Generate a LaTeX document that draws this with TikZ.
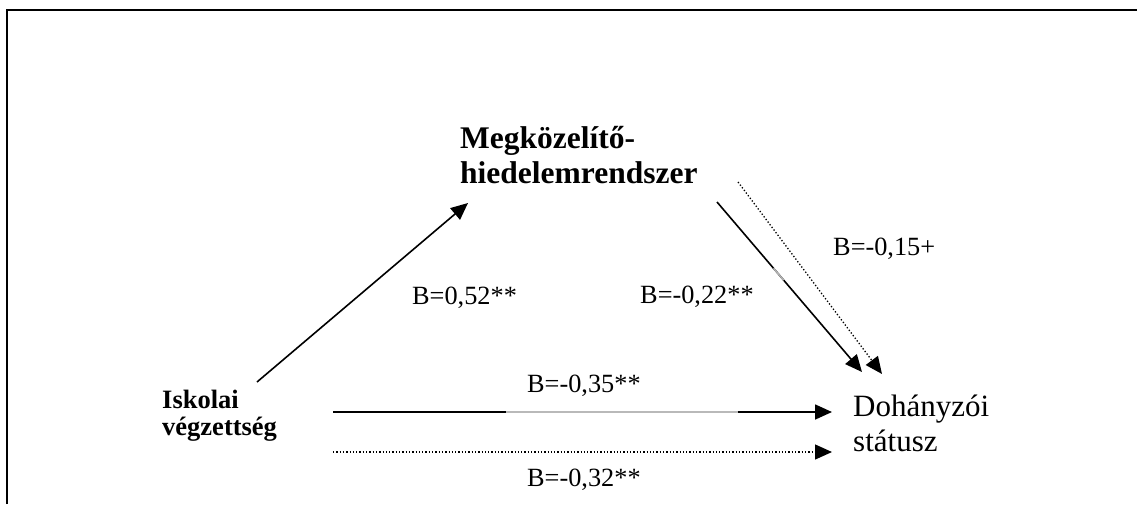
\documentclass[tikz,border=0pt]{standalone}
\usepackage{fontspec}
\setmainfont{Liberation Serif}
\usetikzlibrary{arrows.meta,calc}
\begin{document}
\begin{tikzpicture}[x=1pt,y=-1pt,
  lbl/.style={anchor=base west,inner sep=0pt,font=\fontsize{26.3}{30}\selectfont},
  bigbold/.style={anchor=base west,inner sep=0pt,font=\fontsize{31.5}{35}\selectfont\bfseries},
  smallbold/.style={anchor=base west,inner sep=0pt,font=\fontsize{26.5}{30}\selectfont\bfseries},
  bigreg/.style={anchor=base west,inner sep=0pt,font=\fontsize{31}{35}\selectfont},
  conn/.style={line width=1.6pt,-{Triangle[length=17pt,width=15pt]}},
  dotconn/.style={line width=1.3pt,dotted,-{Triangle[length=17pt,width=15pt]}}]
\useasboundingbox (0,0) rectangle (1137,504);
% frame
\draw[line width=2.5pt] (7,504) -- (7,10) -- (1137,10);
% nodes
\node[bigbold] (m1) at (460,148) {Megközelítő-};
\node[bigbold] (m2) at (460,183) {hiedelemrendszer};
\node[smallbold] (i1) at (162,408) {Iskolai};
\node[smallbold] (i2) at (162,435) {végzettség};
\node[bigreg] (d1) at (853,416) {Dohányzói};
\node[bigreg] (d2) at (853,451) {státusz};
% labels
\node[lbl] (l1) at (412,304) {B=0,52**};
\node[lbl] (l2) at (640,303) {B=-0,22**};
\node[lbl] (l3) at (833,255) {B=-0,15+};
\node[lbl] (l4) at (527,392) {B=-0,35**};
\node[lbl] (l5) at (527,486) {B=-0,32**};
% endpoints
\coordinate (a1s) at (257,382);
\coordinate (a1e) at (468,203);
\coordinate (a2s) at (717,202);
\coordinate (a2e) at (862,372);
\coordinate (a3s) at (738,182);
\coordinate (a3e) at (882,374);
\coordinate (h1s) at (333,412);
\coordinate (h1e) at (832,412);
\coordinate (h2s) at (333,452);
\coordinate (h2e) at (832,452);
% connectors
\draw[conn] (a1s) -- (a1e);
\draw[conn] (a2s) -- (a2e);
\draw[line width=1.6pt,gray!60] ($(a2s)!0.39!(a2e)$) -- ($(a2s)!0.46!(a2e)$);
\draw[dotconn] (a3s) -- (a3e);
\draw[conn] (h1s) -- (h1e);
\draw[line width=1.6pt,gray!55] (506,412) -- (738,412);
\draw[dotconn] (h2s) -- (h2e);
\end{tikzpicture}
\end{document}
